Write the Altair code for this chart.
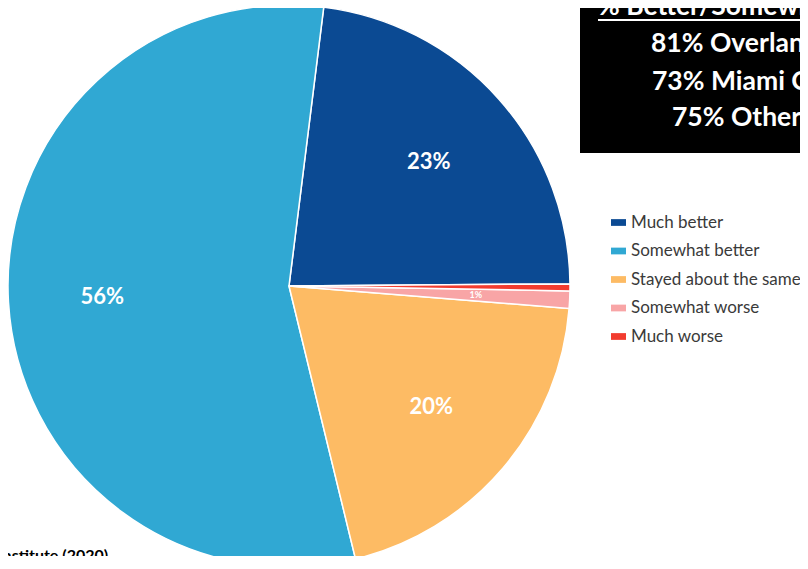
import altair as alt
import pandas as pd

# ---- data ----
categories = ["Much better", "Somewhat better", "Stayed about the same", "Somewhat worse", "Much worse"]
values = [23, 56, 20, 1, 0.4]
labels = ["23%", "56%", "20%", "1%", ""]
label_sizes = [22, 22, 22, 9, 9]
pie_order = [0, 4, 3, 2, 1]          # clockwise drawing order
colors = ["#0B4A93", "#30A8D3", "#FDBB64", "#F8A5A6", "#F23C2F"]

box_lines = ["% Better/Somewhat Better", "81% Overland Park", "73% Miami County", "75% Other"]
source_text = "Institute (2020)"

df = pd.DataFrame({
    "category": categories,
    "value": values,
    "label": labels,
    "fs": label_sizes,
    "ord": pie_order,
})

total = float(sum(values))
start = 7.1 * 3.141592653589793 / 180.0
theta_scale = alt.Scale(domain=[0, total], range=[start, start + 2 * 3.141592653589793])

FONT = "Lato"
CX, CY, R = 289, 286, 281

base = alt.Chart(df).encode(
    theta=alt.Theta("value:Q", stack=True, scale=theta_scale),
    order=alt.Order("ord:Q"),
)

pie = base.mark_arc(outerRadius=R, stroke="white", strokeWidth=1.5).encode(
    x=alt.value(CX),
    y=alt.value(CY),
    color=alt.Color(
        "category:N",
        scale=alt.Scale(domain=categories, range=colors),
        legend=alt.Legend(
            title=None,
            orient="none",
            legendX=610,
            legendY=214,
            symbolType="M-1,-0.45H1V0.45H-1Z",
            symbolSize=225,
            symbolStrokeWidth=0,
            labelFont=FONT,
            labelFontSize=17,
            labelColor="#3A3A3A",
            labelOffset=4,
            labelLimit=400,
            rowPadding=10.5,
            padding=0,
        ),
    ),
)

pie_labels = base.mark_text(radius=187, font=FONT, fontWeight="bold", color="white").encode(
    x=alt.value(CX),
    y=alt.value(CY),
    text="label:N",
    size=alt.Size("fs:Q", scale=None, legend=None),
)

one = alt.Data(values=[{"a": 1}])

box = alt.Chart(one).mark_rect(color="black").encode(
    x=alt.value(580), x2=alt.value(830), y=alt.value(-10), y2=alt.value(153)
)

box_xs = [598, 651, 652, 672]
box_ys = [15, 52, 90, 126]
box_df = pd.DataFrame({"t": box_lines, "bx": box_xs, "by": box_ys})
box_text = alt.Chart(box_df).mark_text(
    font=FONT, fontWeight="bold", fontSize=26.5, color="white", align="left", baseline="alphabetic"
).encode(
    x=alt.X("bx:Q", scale=None),
    y=alt.Y("by:Q", scale=None),
    text="t:N",
)

underline = alt.Chart(one).mark_rule(color="white", strokeWidth=1.8).encode(
    x=alt.value(598), x2=alt.value(830), y=alt.value(20)
)

source = alt.Chart(one).mark_text(
    font=FONT, fontWeight="bold", fontSize=16, color="black", align="left", baseline="alphabetic"
).encode(
    x=alt.value(-2), y=alt.value(561), text=alt.value(source_text)
)

chart = alt.layer(pie, pie_labels, box, box_text, underline, source).properties(
    width=800,
    height=556,
    padding={"left": -8, "top": -8, "right": 0, "bottom": 0},
    autosize=alt.AutoSizeParams(type="none"),
).configure_view(stroke=None).configure(background="white")

chart.save("out.html", embed_options={"renderer": "svg", "actions": False})
